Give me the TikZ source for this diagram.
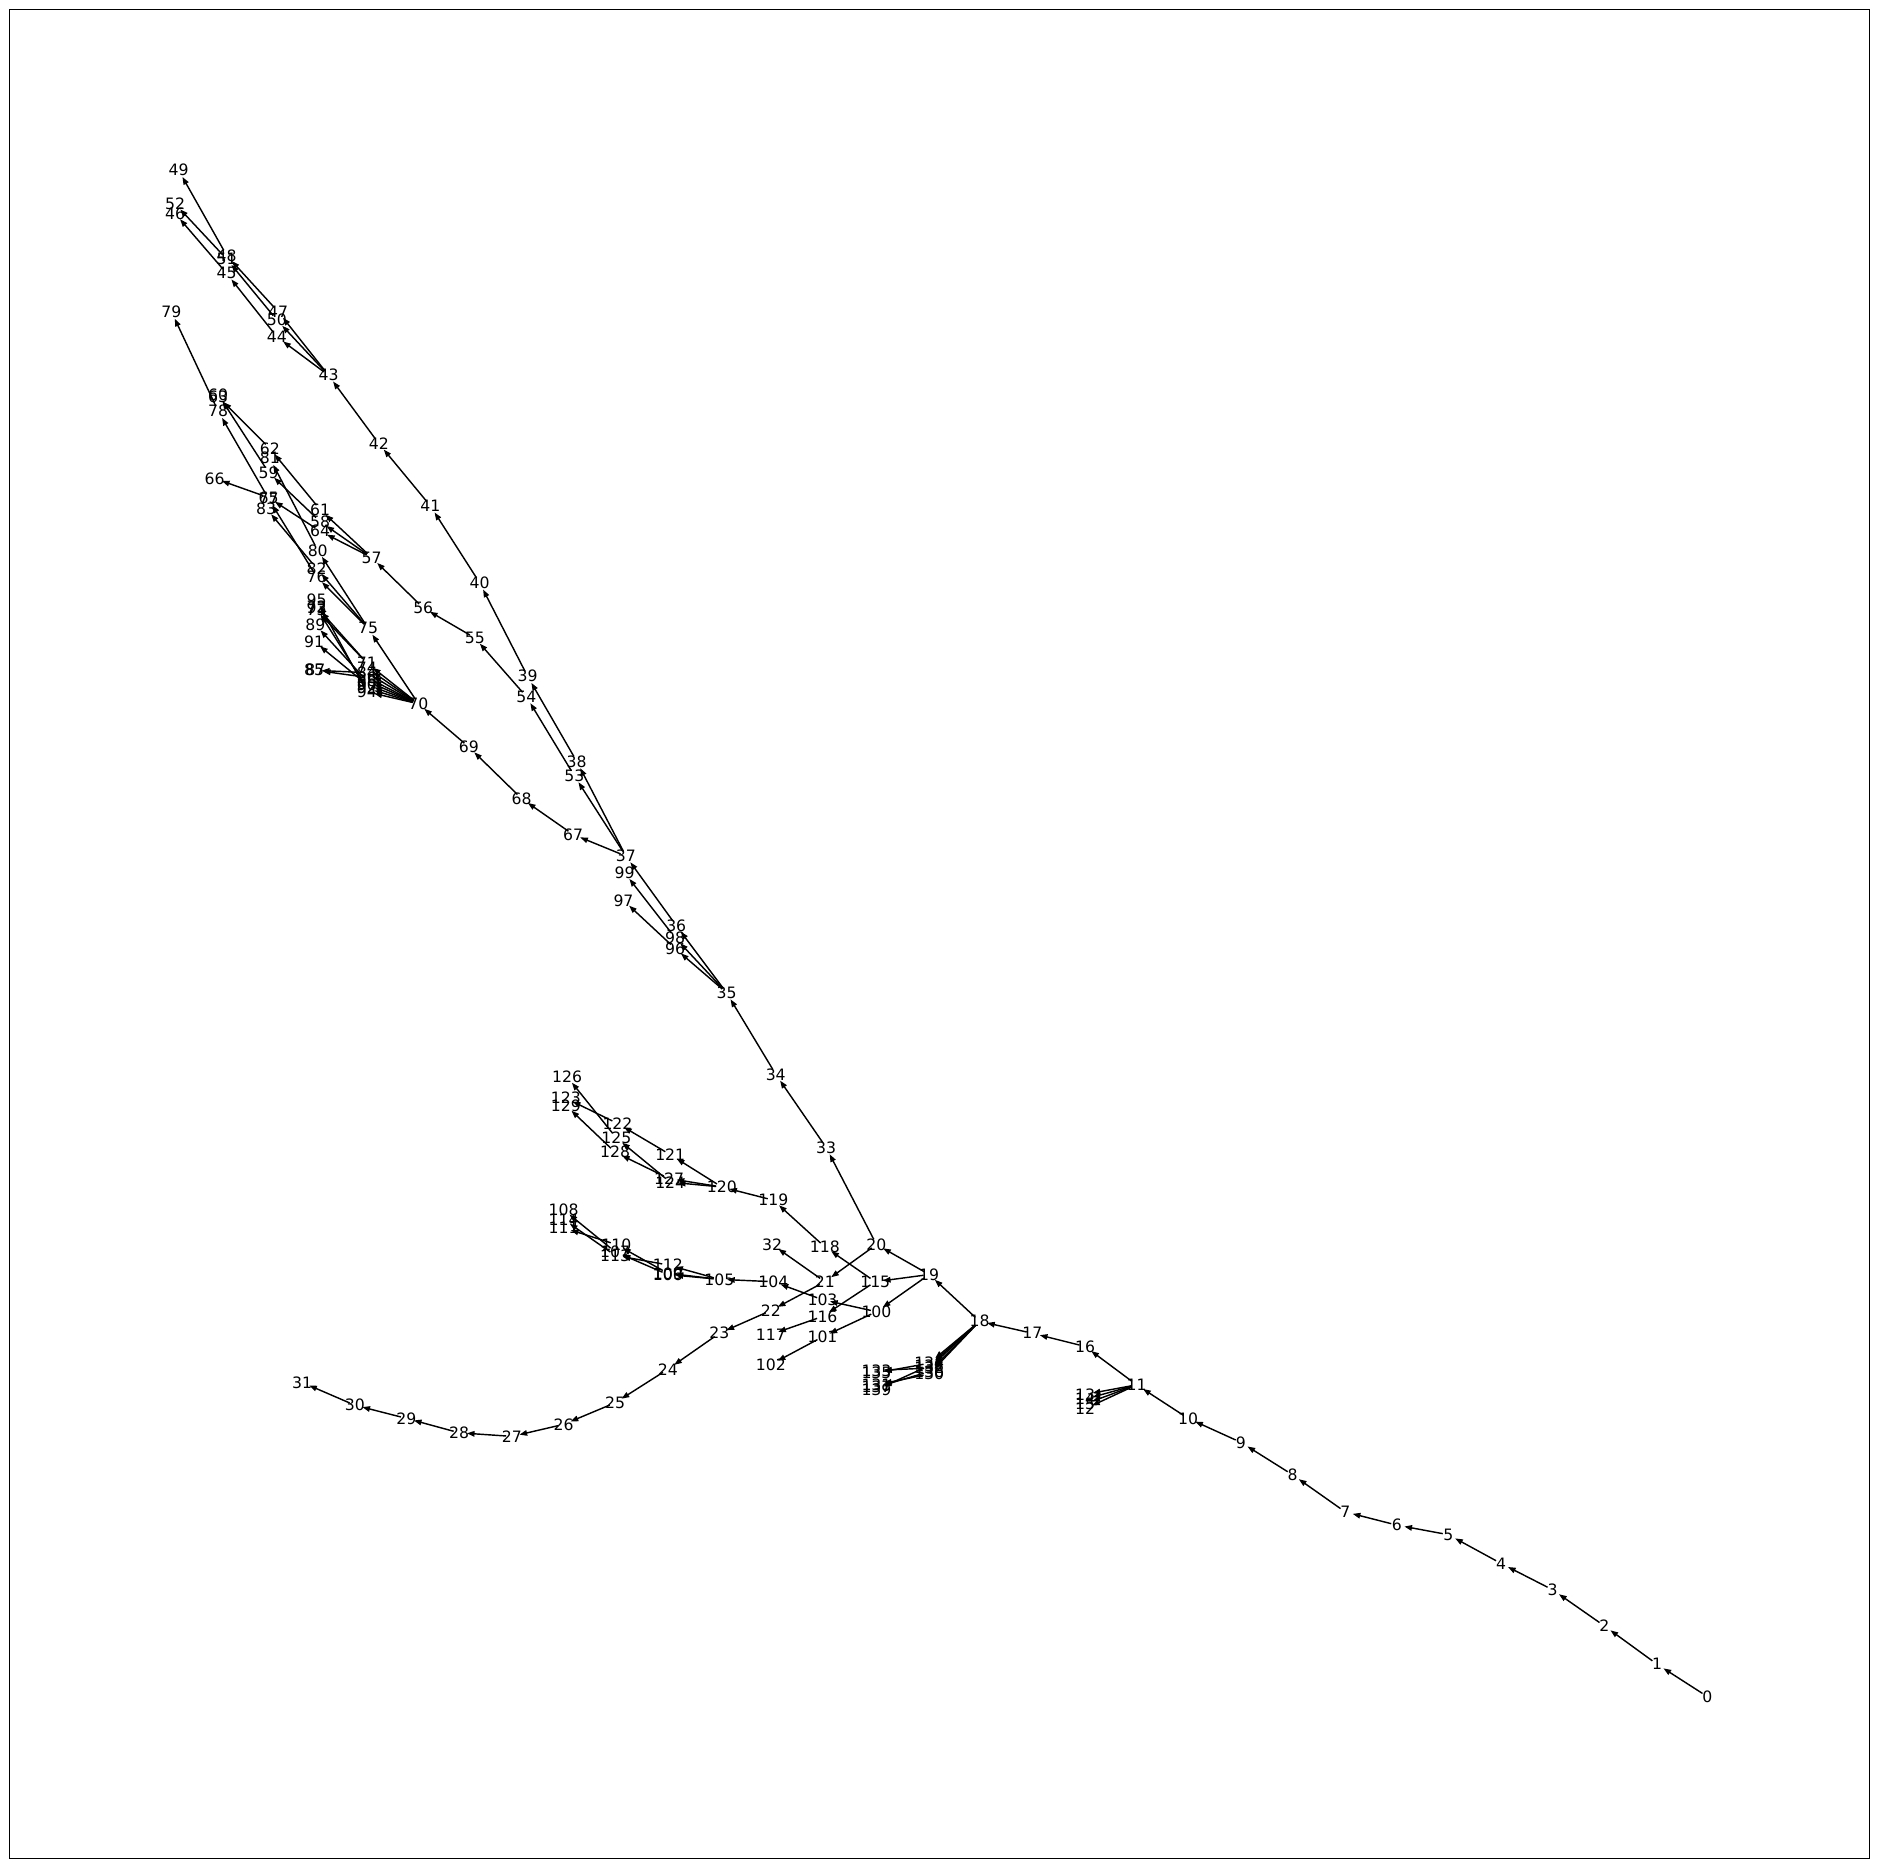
\documentclass[tikz,border=0pt]{standalone}
\usepackage{fontspec}
\setmainfont{DejaVu Sans}
\usetikzlibrary{arrows.meta}
\tikzset{
  lbl/.style={font=\fontsize{9.3}{10}\selectfont, inner sep=0pt},
  arc/.style={-{Triangle[length=1.6mm,width=1.15mm]}, line width=0.85pt, shorten >=1.6mm, shorten <=1.2mm}
}
\begin{document}
\begin{tikzpicture}[x=0.25mm,y=-0.25mm]
\useasboundingbox (0,0) rectangle (1568,1558);
\draw[line width=0.6pt] (8,8) rectangle (1559,1550);
% node positions
\foreach \i/\x/\y in {0/1424/1415,1/1382/1388,2/1338/1356,3/1295/1326,4/1252/1304,5/1208/1280,6/1165/1272,7/1122/1261,8/1078/1230,9/1035/1203,
  10/991/1183,11/948/1155,12/905/1175,13/905/1163,14/905/1167,15/905/1171,16/905/1123,17/861/1112,18/817/1102,19/775/1063,
  20/731/1038,21/688/1069,22/643/1093,23/600/1112,24/557/1142,25/513/1170,26/470/1188,27/427/1198,28/383/1195,29/339/1183,
  30/296/1172,31/252/1153,32/644/1038,33/689/957,34/647/896,35/606/828,36/564/772,37/522/714,38/481/635,39/440/564,
  40/400/486,41/359/422,42/316/370,43/274/313,44/231/281,45/189/228,46/146/178,47/232/260,48/189/213,49/149/142,
  50/231/267,51/189/216,52/146/170,53/479/647,54/439/581,55/396/532,56/353/507,57/310/465,58/267/435,59/224/394,
  60/182/329,61/267/425,62/225/374,63/182/331,64/267/443,65/224/415,66/179/399,67/478/696,68/435/666,69/391/623,
  70/349/587,71/306/553,72/264/506,73/264/509,74/306/557,75/307/524,76/264/481,77/224/416,78/182/343,79/143/260,
  80/265/459,81/225/382,82/264/474,83/222/424,84/306/561,85/262/559,86/306/565,87/263/559,88/306/568,89/263/521,
  90/306/571,91/262/535,92/306/574,93/264/507,94/306/577,95/264/500,96/563/791,97/520/751,98/563/782,99/521/728,
  100/731/1094,101/686/1115,102/643/1138,103/686/1084,104/645/1069,105/600/1067,106/557/1063,107/513/1044,108/470/1009,109/557/1062,
  110/514/1038,111/470/1024,112/557/1055,113/513/1047,114/470/1017,115/730/1069,116/686/1098,117/643/1113,118/688/1040,119/645/1001,
  120/602/990,121/559/963,122/515/937,123/472/916,124/559/986,125/514/949,126/473/898,127/558/983,128/513/961,129/472/922,
  130/775/1146,131/731/1155,132/775/1141,133/731/1143,134/775/1137,135/731/1145,136/775/1144,137/731/1157,138/775/1139,139/731/1159}
  \coordinate (c\i) at (\x,\y);
% edges
\foreach \a/\b in {0/1,1/2,2/3,3/4,4/5,5/6,6/7,7/8,8/9,9/10,10/11,11/12,11/13,11/14,11/15,11/16,16/17,17/18,18/19,19/20,
  20/21,21/22,22/23,23/24,24/25,25/26,26/27,27/28,28/29,29/30,30/31,21/32,20/33,33/34,34/35,35/36,36/37,
  37/38,38/39,39/40,40/41,41/42,42/43,43/44,44/45,45/46,43/47,47/48,48/49,43/50,50/51,51/52,
  37/53,53/54,54/55,55/56,56/57,57/58,58/59,59/60,57/61,61/62,62/63,57/64,64/65,65/66,
  37/67,67/68,68/69,69/70,70/71,71/72,71/73,70/74,70/75,75/76,76/77,77/78,78/79,75/80,80/81,75/82,82/83,
  70/84,84/85,70/86,86/87,70/88,88/89,70/90,90/91,70/92,92/93,70/94,94/95,35/96,96/97,35/98,98/99,
  19/100,100/101,101/102,100/103,103/104,104/105,105/106,106/107,107/108,105/109,109/110,110/111,105/112,112/113,113/114,
  19/115,115/116,116/117,115/118,118/119,119/120,120/121,121/122,122/123,120/124,124/125,125/126,120/127,127/128,128/129,
  18/130,130/131,18/132,132/133,18/134,134/135,18/136,136/137,18/138,138/139}
  \draw[arc] (c\a) -- (c\b);
% labels
\foreach \i in {0,...,139}
  \node[lbl] (n\i) at (c\i) {\i};
\end{tikzpicture}
\end{document}
